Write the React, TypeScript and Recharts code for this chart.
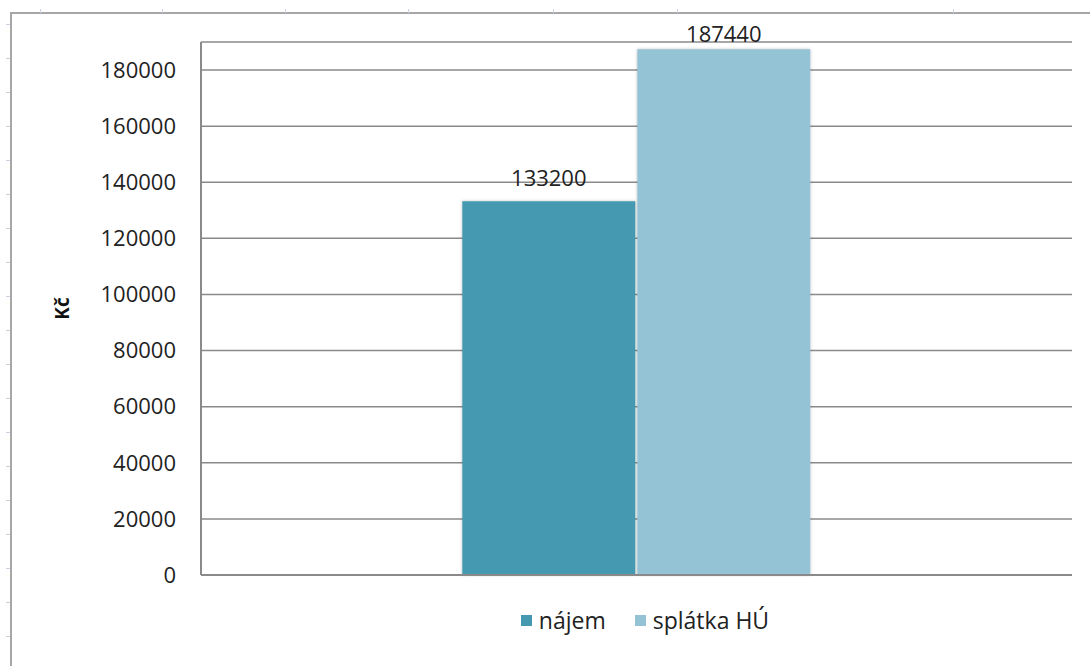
import React from 'react'
import {
    BarChart,
    Bar,
    XAxis,
    YAxis,
    CartesianGrid,
    LabelList,
} from 'recharts'

const categories = ['']
const najem = [133200]
const splatka = [187440]
const yTicks = [0, 20000, 40000, 60000, 80000, 100000, 120000, 140000, 160000, 180000]

const SERIES = [
    { key: 'najem', name: 'nájem', color: '#4499B0', labelOffset: 15 },
    { key: 'splatka', name: 'splátka HÚ', color: '#93C3D4', labelOffset: 7 },
]

const data = categories.map((c, i) => ({ name: c, najem: najem[i], splatka: splatka[i] }))

const FONT = '"Open Sans", "Noto Sans", sans-serif'

// sheet grid marks around the embedded chart
const topMarks = [40, 162, 285, 408, 553, 677, 953]
const leftMarks = Array.from({ length: 19 }, (_, i) => 24 + i * 34)

const renderLegend = () => (
    <div style={{ display: 'flex', justifyContent: 'center', fontFamily: FONT, fontSize: 23, color: '#222' }}>
        {SERIES.map((s, i) => (
            <div key={s.key} style={{ display: 'flex', alignItems: 'center', marginLeft: i ? 29 : 0 }}>
                <span style={{ display: 'inline-block', width: 11, height: 11, background: s.color, marginRight: 7 }} />
                <span>{s.name}</span>
            </div>
        ))}
    </div>
)

export default function App() {
    return (
        <div style={{ position: 'absolute', left: 0, top: 0, width: 1090, height: 666, background: '#fff', overflow: 'hidden' }}>
            {/* chart frame */}
            <div style={{ position: 'absolute', left: 10, top: 12, right: 0, bottom: 0, borderTop: '2px solid #a6a6a6', borderLeft: '2px solid #a6a6a6' }} />
            {topMarks.map((x) => (
                <div key={`t${x}`} style={{ position: 'absolute', left: x, top: 9, width: 1, height: 4, background: '#c9d2e3' }} />
            ))}
            {leftMarks.map((y) => (
                <div key={`l${y}`} style={{ position: 'absolute', left: 6, top: y, width: 4, height: 1, background: '#c9d2e3' }} />
            ))}

            <div style={{ position: 'absolute', left: 0, top: 0 }}>
                <BarChart
                    width={1090}
                    height={666}
                    data={data}
                    margin={{ top: 42, right: 18, bottom: 90, left: 0 }}
                    barCategoryGap="30%"
                    barGap={2}
                >
                    <defs>
                        <filter id="barShadow" x="-5%" y="-5%" width="110%" height="110%">
                            <feDropShadow dx="0" dy="0" stdDeviation="1.5" floodColor="#000" floodOpacity="0.25" />
                        </filter>
                    </defs>
                    <CartesianGrid vertical={false} stroke="#8a8a8a" strokeWidth={1.5} />
                    <XAxis
                        dataKey="name"
                        tick={false}
                        tickLine={false}
                        height={1}
                        axisLine={{ stroke: '#8a8a8a', strokeWidth: 2 }}
                    />
                    <YAxis
                        width={201}
                        domain={[0, 190000]}
                        ticks={yTicks}
                        interval={0}
                        tickLine={false}
                        tickSize={0}
                        tickMargin={25}
                        axisLine={{ stroke: '#8a8a8a', strokeWidth: 2 }}
                        tick={{ fill: '#222', fontSize: 22, fontFamily: FONT }}
                        label={{
                            content: ({ viewBox }: any) => {
                                const x = viewBox.x + 62
                                const y = viewBox.y + viewBox.height / 2
                                return (
                                    <text
                                        x={x}
                                        y={y}
                                        transform={`rotate(-90 ${x} ${y})`}
                                        textAnchor="middle"
                                        dominantBaseline="central"
                                        fontFamily={FONT}
                                        fontWeight="bold"
                                        fontSize={19}
                                        fill="#111"
                                    >
                                        Kč
                                    </text>
                                )
                            },
                        }}
                    />
                    {SERIES.map((s) => (
                        <Bar
                            key={s.key}
                            dataKey={s.key}
                            name={s.name}
                            fill={s.color}
                            filter="url(#barShadow)"
                            isAnimationActive={false}
                        >
                            <LabelList
                                dataKey={s.key}
                                position="top"
                                offset={s.labelOffset}
                                fill="#222"
                                fontSize={22}
                                fontFamily={FONT}
                            />
                        </Bar>
                    ))}
                </BarChart>
            </div>

            <div style={{ position: 'absolute', left: 200, width: 890, top: 604 }}>{renderLegend()}</div>
        </div>
    )
}
